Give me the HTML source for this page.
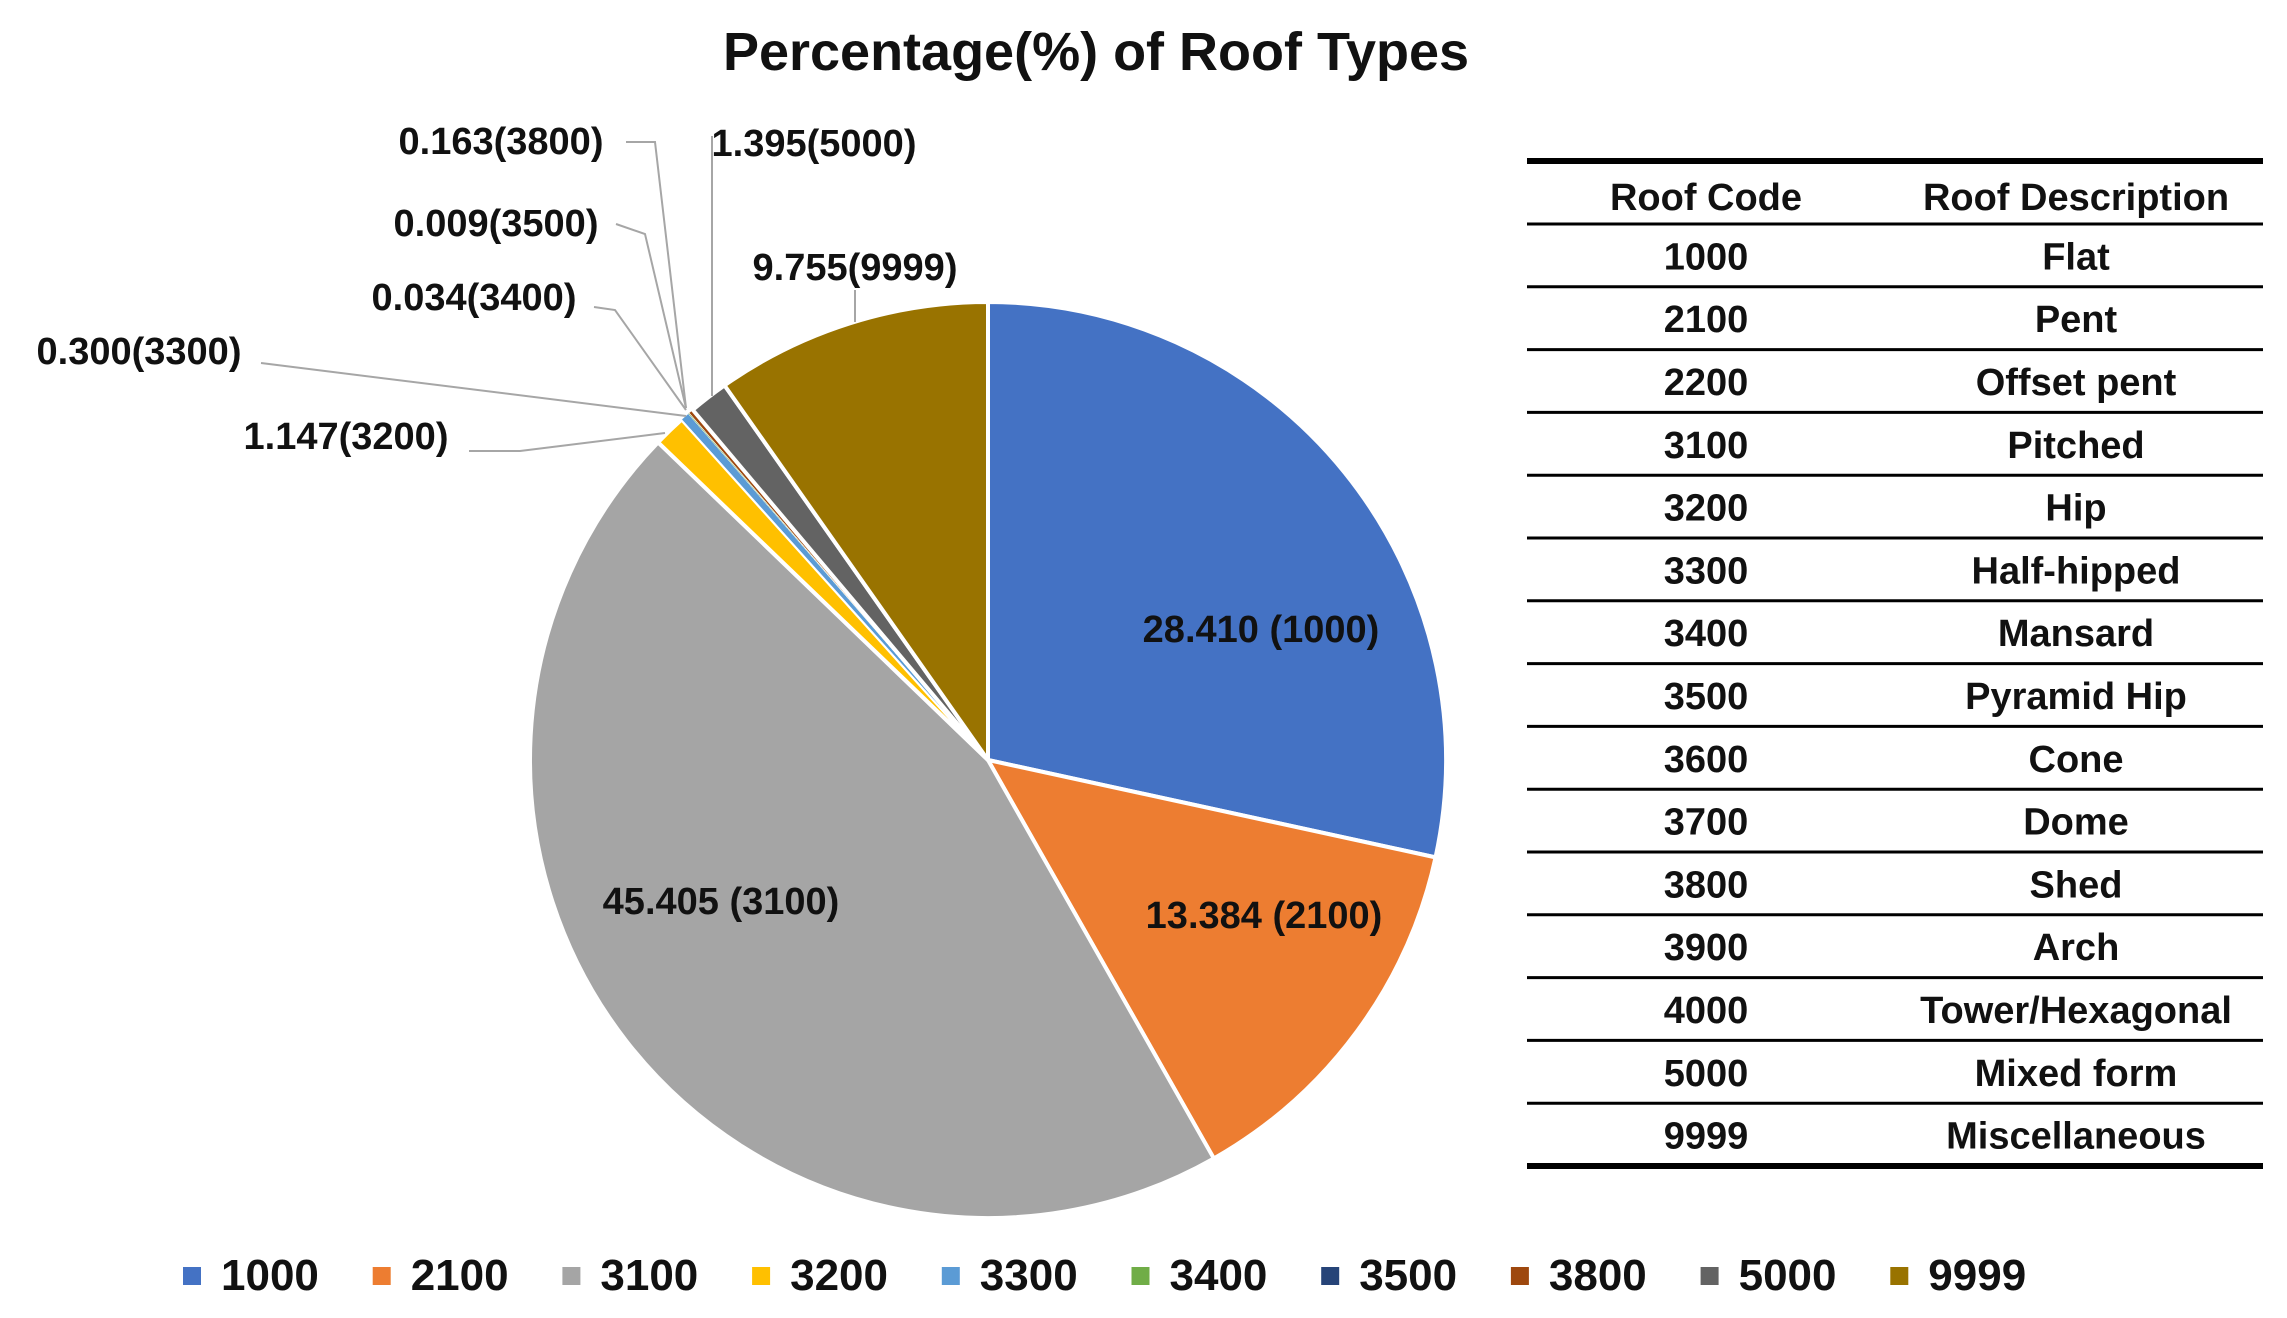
<!DOCTYPE html>
<html><head><meta charset="utf-8"><style>
html,body{margin:0;padding:0;background:#fff;}
svg{display:block;font-family:"Liberation Sans",sans-serif;font-weight:bold;}
</style></head><body>
<svg id="chart" width="2287" height="1318" viewBox="0 0 2287 1318">
<text x="1096" y="70" text-anchor="middle" font-size="54" fill="#111">Percentage(%) of Roof Types</text>
<g id="pie"></g>
<g id="labels"></g>
<g id="legend"></g>
<g id="table"></g>
</svg>
<script>
const codes = ["1000","2100","3100","3200","3300","3400","3500","3800","5000","9999"];
const values = [28.410,13.384,45.405,1.147,0.300,0.034,0.009,0.163,1.395,9.755];
const colors = ["#4472C4","#ED7D31","#A5A5A5","#FFC000","#5B9BD5","#70AD47","#264478","#9E480E","#636363","#997300"];
const tableCodes = ["1000","2100","2200","3100","3200","3300","3400","3500","3600","3700","3800","3900","4000","5000","9999"];
const tableDesc = ["Flat","Pent","Offset pent","Pitched","Hip","Half-hipped","Mansard","Pyramid Hip","Cone","Dome","Shed","Arch","Tower/Hexagonal","Mixed form","Miscellaneous"];

const NS="http://www.w3.org/2000/svg";
function mk(tag,attrs,parent){const e=document.createElementNS(NS,tag);for(const k in attrs)e.setAttribute(k,attrs[k]);parent.appendChild(e);return e;}
const cx=988, cy=760, R=458;
const total=values.reduce((a,b)=>a+b,0);
function pt(frac,r){const a=frac*2*Math.PI;return [cx+r*Math.sin(a),cy-r*Math.cos(a)];}
const pie=document.getElementById('pie');
let acc=0;
values.forEach((v,i)=>{
  const f0=acc/total, f1=(acc+v)/total; acc+=v;
  const p0=pt(f0,R), p1=pt(f1,R);
  const large=(f1-f0)>0.5?1:0;
  const p=mk('path',{d:`M${cx},${cy} L${p0[0]},${p0[1]} A${R},${R} 0 ${large} 1 ${p1[0]},${p1[1]} Z`,fill:colors[i],stroke:'#fff','stroke-width':(v<0.5?0.5:4),'stroke-linejoin':'round'},pie);
  
  
});
const lab=document.getElementById('labels');
function txt(s,x,y,anchor,name){const t=mk('text',{x:x,y:y,'text-anchor':anchor,'font-size':38,fill:'#111'},lab);t.textContent=s;return t;}
function fmt(i,sp){return values[i].toFixed(3)+(sp?' (':'(')+codes[i]+')';}
txt(fmt(0,true),1261,642,'middle','label-1000');
txt(fmt(1,true),1264,928,'middle','label-2100');
txt(fmt(2,true),721,914,'middle','label-3100');
const outside=[
 [9,855,280,'middle',[[855,290],[855,322]]],
 [8,814,156,'middle',[[712,136],[712,396]]],
 [7,501,154,'middle',[[626,142],[655,142],[686,408]]],
 [6,496,236,'middle',[[616,224],[645,234],[686,408]]],
 [5,474,310,'middle',[[594,307],[615,310],[686,410]]],
 [4,139,364,'middle',[[261,363],[686,416]]],
 [3,346,449,'middle',[[469,451],[520,451],[665,433]]]
];
outside.forEach(o=>{
  txt(fmt(o[0],false),o[1],o[2],o[3],'label-'+codes[o[0]]);
  const l=mk('polyline',{points:o[4].map(p=>p.join(',')).join(' '),fill:'none',stroke:'#a6a6a6','stroke-width':2},lab);
  
  
});
const leg=document.getElementById('legend');
codes.forEach((c,i)=>{
  const x=183+i*189.7;
  const g=mk('g',{},leg);
  
  
  mk('rect',{x:x,y:1267,width:18,height:18,fill:colors[i]},g);
  const t=mk('text',{x:x+38,y:1290,'font-size':44,fill:'#111'},g);t.textContent=c;
});
const tb=document.getElementById('table');
const tx0=1536,tx1=2272,tableTop=161,hdr=224,pitch=62.8;
mk('line',{x1:tx0,x2:tx1,y1:tableTop,y2:tableTop,stroke:'#000','stroke-width':6},tb);
let h1=mk('text',{x:1715,y:210,'text-anchor':'middle','font-size':38,fill:'#111'},tb);h1.textContent='Roof Code';


let h2=mk('text',{x:2085,y:210,'text-anchor':'middle','font-size':38,fill:'#111'},tb);h2.textContent='Roof Description';


mk('line',{x1:tx0,x2:tx1,y1:hdr,y2:hdr,stroke:'#000','stroke-width':3},tb);
tableCodes.forEach((c,i)=>{
  const yb=hdr+(i+1)*pitch;
  const ty=yb-pitch/2+14;
  const a=mk('text',{x:1715,y:ty,'text-anchor':'middle','font-size':38,fill:'#111'},tb);a.textContent=c;
  
  
  const b=mk('text',{x:2085,y:ty,'text-anchor':'middle','font-size':38,fill:'#111'},tb);b.textContent=tableDesc[i];
  
  
  const last=i===tableCodes.length-1;
  mk('line',{x1:tx0,x2:tx1,y1:yb,y2:yb,stroke:'#000','stroke-width':last?6:3},tb);
});
document.getElementById('table').setAttribute('transform','translate(-9,0)');
</script>
</body></html>
